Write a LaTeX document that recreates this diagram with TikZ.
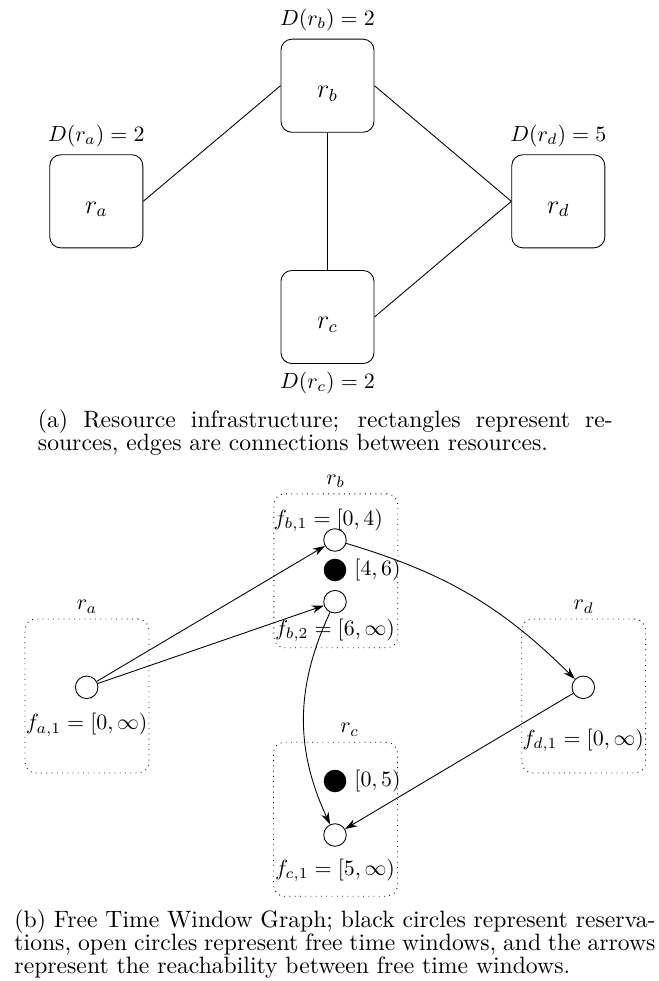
\documentclass[tikz,border=0pt]{standalone}
\usepackage{tikz}
\usetikzlibrary{positioning,arrows.meta}
\tikzset{
  resbox/.style={draw, rounded corners=5pt, minimum width=42.5pt, minimum height=42.5pt, font=\large, text height=10.7pt, text depth=0pt},
  region/.style={draw, dotted, rounded corners=5pt, minimum width=56.6pt, minimum height=70.3pt},
  freewin/.style={draw, circle, minimum size=10.3pt, inner sep=0pt},
  reserved/.style={circle, fill=black, minimum size=10.3pt, inner sep=0pt},
  flow/.style={-{Stealth[length=5.5pt,width=3.6pt]}},
  capt/.style={text width=#1, align=justify, font=\fontsize{10.8}{10.5}\selectfont}
}
\begin{document}
\begin{tikzpicture}[x=0.4566pt, y=0.4566pt]
    \useasboundingbox (0,0) rectangle (659,-981);
    \node[resbox] (ra) at (96.3,-201.3) {$r_a$};
    \node[resbox] (rb) at (327.5,-85.7) {$r_b$};
    \node[resbox] (rc) at (327.5,-317) {$r_c$};
    \node[resbox] (rd) at (558.3,-201.3) {$r_d$};
    \node[above=0pt of ra] (da) {$D(r_a) = 2$};
    \node[above=0pt of rb] (db) {$D(r_b) = 2$};
    \node[below=0pt of rc] (dc) {$D(r_c) = 2$};
    \node[above=0pt of rd] (dd) {$D(r_d) = 5$};
    \draw (ra.east) -- (rb.west);
    \draw (rb.east) -- (rd.west);
    \draw (rb.south) -- (rc.north);
    \draw (rc.east) -- (rd.west);
    \node[capt=262.5pt] (capa) at (325.4,-433) {(a) Resource infrastructure; rectangles represent re-\linebreak sources, edges are connections between resources.};

    \node[region] (ga) at (87,-696) {};
    \node[region] (gb) at (335.8,-570.8) {};
    \node[region] (gc) at (335.5,-819.2) {};
    \node[region] (gd) at (583.7,-696) {};
    \node[above=-1pt of ga] (la) {$r_a$};
    \node[above=-1pt of gb] (lb) {$r_b$};
    \node[above=-1pt of gc, xshift=6.5pt] (lc) {$r_c$};
    \node[above=-1pt of gd] (ld) {$r_d$};
    \node[freewin] (fa1) at (86.7,-687.3) {};
    \node[freewin] (fb1) at (335,-540) {};
    \node[reserved] (resb) at (335,-570) {};
    \node[freewin] (fb2) at (335,-601.7) {};
    \node[reserved] (resc) at (335,-781) {};
    \node[freewin] (fc1) at (335,-835) {};
    \node[freewin] (fd1) at (583.3,-687.3) {};
    \node[above=-5pt of fb1, xshift=-3pt] (tb1) {$f_{b,1} = [0,4)$};
    \node[right=0pt of resb] (tresb) {$[4,6)$};
    \node[below=-1pt of fb2] (tb2) {$f_{b,2} = [6,\infty)$};
    \node[below=3pt of fa1] (ta1) {$f_{a,1} = [0,\infty)$};
    \node[right=0pt of resc] (tresc) {$[0,5)$};
    \node[below=2pt of fc1] (tc1) {$f_{c,1} = [5,\infty)$};
    \node[below=10pt of fd1] (td1) {$f_{d,1} = [0,\infty)$};
    \draw[flow] (fa1) -- (fb1);
    \draw[flow] (fa1) -- (fb2);
    \draw[flow] (fb1) to[bend left=14] (fd1);
    \draw[flow] (fb2) to[bend right=25] (fc1);
    \draw[flow] (fd1) -- (fc1);
    \node[capt=292.7pt] (capb) at (335,-944.5) {(b) Free Time Window Graph; black circles represent reserva-\linebreak tions, open circles represent free time windows, and the arrows\linebreak represent the reachability between free time windows.};
\end{tikzpicture}
\end{document}
